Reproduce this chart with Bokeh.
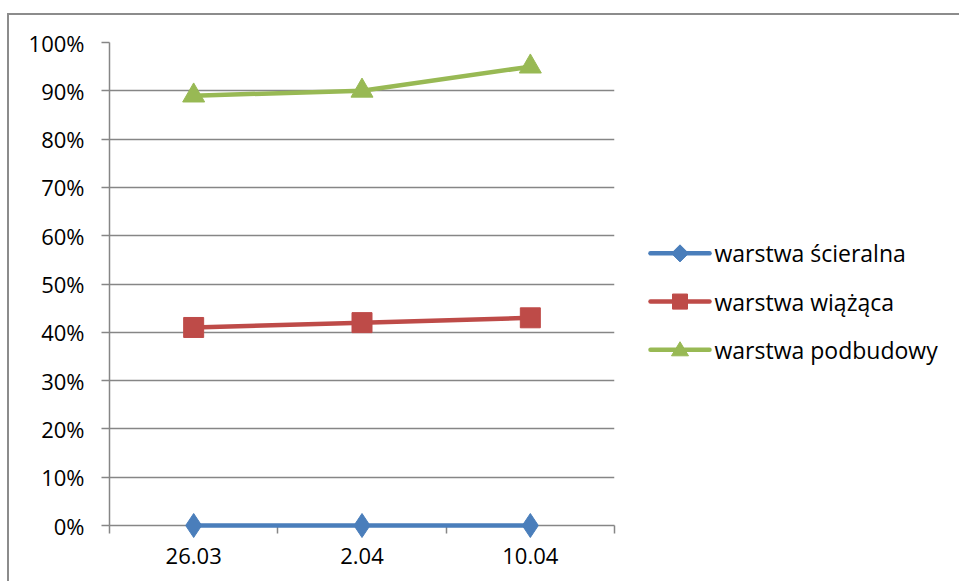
from bokeh.plotting import figure
from bokeh.models import FixedTicker, Range1d, NumeralTickFormatter
from bokeh.core.properties import value
from bokeh.embed import file_html
from bokeh.resources import INLINE

categories = ["26.03", "2.04", "10.04"]
scieralna = [0.0, 0.0, 0.0]
wiazaca = [0.41, 0.42, 0.43]
podbudowy = [0.89, 0.90, 0.95]
series_names = ["warstwa ścieralna", "warstwa wiążąca", "warstwa podbudowy"]
y_ticks = [i / 10 for i in range(11)]

FONT = "Open Sans"
GRAY = "#868686"

FRAME_W, FRAME_H = 505, 481
x = [i + 0.5 for i in range(len(categories))]

p = figure(width=952, height=568, output_backend="svg", toolbar_location=None,
           x_range=Range1d(0, len(categories)), y_range=Range1d(0, 1),
           min_border_left=100, min_border_top=27, min_border_right=347, min_border_bottom=58)
p.margin = (13, 0, 0, 7)
p.styles = {"border-top": "2px solid #8c8c8c", "border-left": "2px solid #8c8c8c"}
p.outline_line_color = None
p.background_fill_color = "white"
p.border_fill_color = "white"

p.xgrid.visible = False
p.ygrid.ticker = FixedTicker(ticks=y_ticks)
p.ygrid.grid_line_color = GRAY
p.ygrid.grid_line_width = 1.5

p.yaxis.ticker = FixedTicker(ticks=y_ticks)
p.yaxis.formatter = NumeralTickFormatter(format="0%")
p.yaxis.axis_line_color = GRAY
p.yaxis.axis_line_width = 1.5
p.yaxis.major_tick_line_color = GRAY
p.yaxis.major_tick_line_width = 1.5
p.yaxis.major_tick_out = 8
p.yaxis.major_tick_in = 0
p.yaxis.minor_tick_line_color = None
p.yaxis.major_label_text_font = FONT
p.yaxis.major_label_text_font_size = "22px"
p.yaxis.major_label_text_color = "black"
p.yaxis.major_label_standoff = 17

p.xaxis.ticker = FixedTicker(ticks=x, minor_ticks=list(range(len(categories) + 1)))
p.xaxis.major_label_overrides = {xi: c for xi, c in zip(x, categories)}
p.xaxis.axis_line_color = GRAY
p.xaxis.axis_line_width = 1.5
p.xaxis.major_tick_line_color = None
p.xaxis.minor_tick_line_color = GRAY
p.xaxis.minor_tick_line_width = 1.5
p.xaxis.minor_tick_out = 8
p.xaxis.minor_tick_in = 0
p.xaxis.major_label_text_font = FONT
p.xaxis.major_label_text_font_size = "22px"
p.xaxis.major_label_text_color = "black"
p.xaxis.major_label_standoff = 14

colors = ["#4a7ebb", "#be4b48", "#98b954"]
markers = ["diamond", "square", "triangle"]
sizes = [24, 20, 22]
data = [scieralna, wiazaca, podbudowy]

for ys, c, m, s in zip(data, colors, markers, sizes):
    p.line(x, ys, line_color=c, line_width=4.5, level="overlay")
    p.scatter(x, ys, marker=m, size=s, fill_color=c, line_color=c, level="overlay")

# legend symbol outlines, in pixels around the symbol centre
legend_shapes = [
    [(0, 8.5), (8.5, 0), (0, -8.5), (-8.5, 0)],
    [(-7.5, 7.5), (7.5, 7.5), (7.5, -7.5), (-7.5, -7.5)],
    [(0, 8), (8.5, -6), (-8.5, -6)],
]

# legend drawn right of the frame (pixel offsets converted to the plot's data units)
px_x = len(categories) / FRAME_W
px_y = 1.0 / FRAME_H
leg_x0 = 541 * px_x
leg_x1 = 600 * px_x
leg_xt = 605 * px_x
for i, (name, c, shape) in enumerate(zip(series_names, colors, legend_shapes)):
    ly = (271 - 48 * i) * px_y
    cx = (leg_x0 + leg_x1) / 2
    p.line([leg_x0, leg_x1], [ly, ly], line_color=c, line_width=4.5, line_cap="round", level="overlay")
    p.patch([cx + dx * px_x for dx, dy in shape], [ly + dy * px_y for dx, dy in shape],
            fill_color=c, line_color=c, line_width=1, level="overlay")
    p.text([leg_xt], [ly], text=[name], text_font=value(FONT), text_font_size=value("23px"),
           text_color="black", text_align="left", text_baseline="middle", level="overlay")

open("out.html", "w").write(file_html(p, INLINE))
